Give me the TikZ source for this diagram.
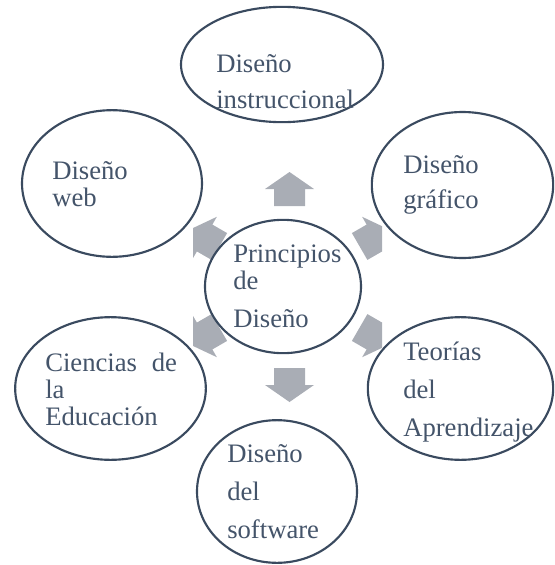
\documentclass[tikz,border=0pt]{standalone}
\usepackage{fontspec}
\setmainfont{Liberation Serif}
\usetikzlibrary{shapes.geometric}
\definecolor{txtcol}{HTML}{44546A}
\definecolor{linecol}{HTML}{3A4A5F}
\definecolor{arrcol}{HTML}{A9ADB5}
\tikzset{
  ell/.style={draw=linecol, line width=1.6pt, fill=white, ellipse, inner sep=0pt},
  txt/.style={text=txtcol, font=\fontsize{20}{21}\selectfont, inner sep=0pt, anchor=base west},
  blk/.style={fill=arrcol}
}
\begin{document}
\begin{tikzpicture}[x=0.75pt,y=-0.75pt]
\useasboundingbox (0,0) rectangle (555,565);
% block arrows
\begin{scope}
\clip (193,0) rectangle (382,565);
\foreach \a in {90,30,-30,-90,150,210}{
  \fill[blk, shift={(289.5,287)}, rotate=\a]
    (81,-15.5) -- (98,-15.5) -- (98,-24.5) -- (115,0) -- (98,24.5) -- (98,15.5) -- (81,15.5) -- cycle;
}
\end{scope}
% ellipses
\node[ell, minimum width=151.5pt, minimum height=86.5pt] (top) at (282,64.5) {};
\node[ell, minimum width=135pt, minimum height=110pt] (web) at (112,183.5) {};
\node[ell, minimum width=136pt, minimum height=109.5pt] (graf) at (462.5,185) {};
\node[ell, minimum width=143pt, minimum height=107pt] (cien) at (110.5,388.5) {};
\node[ell, minimum width=139pt, minimum height=107pt] (teor) at (460.5,388.5) {};
\node[ell, minimum width=120pt, minimum height=107pt] (soft) at (277,491.5) {};
\node[ell, minimum width=117pt, minimum height=100pt] (cent) at (283,286.5) {};
% texts
\node[txt] (t1a) at (216,72) {Diseño};
\node[txt] (t1b) at (216,108) {instruccional};
\node[txt] (t2a) at (52,179) {Diseño};
\node[txt] (t2b) at (52,206) {web};
\node[txt] (t3a) at (403,173) {Diseño};
\node[txt] (t3b) at (403,208) {gráfico};
\node[txt] (t4a) at (233,262) {Principios};
\node[txt] (t4b) at (233,289) {de};
\node[txt] (t4c) at (233,327) {Diseño};
\node[txt] (t5a) at (45,371) {Ciencias\hspace{6pt} de};
\node[txt] (t5b) at (45,398) {la};
\node[txt] (t5c) at (45,425) {Educación};
\node[txt] (t6a) at (403,360) {Teorías};
\node[txt] (t6b) at (403,398) {del};
\node[txt] (t6c) at (403,436) {Aprendizaje};
\node[txt] (t7a) at (227,462) {Diseño};
\node[txt] (t7b) at (227,500) {del};
\node[txt] (t7c) at (227,538) {software};
\end{tikzpicture}
\end{document}
